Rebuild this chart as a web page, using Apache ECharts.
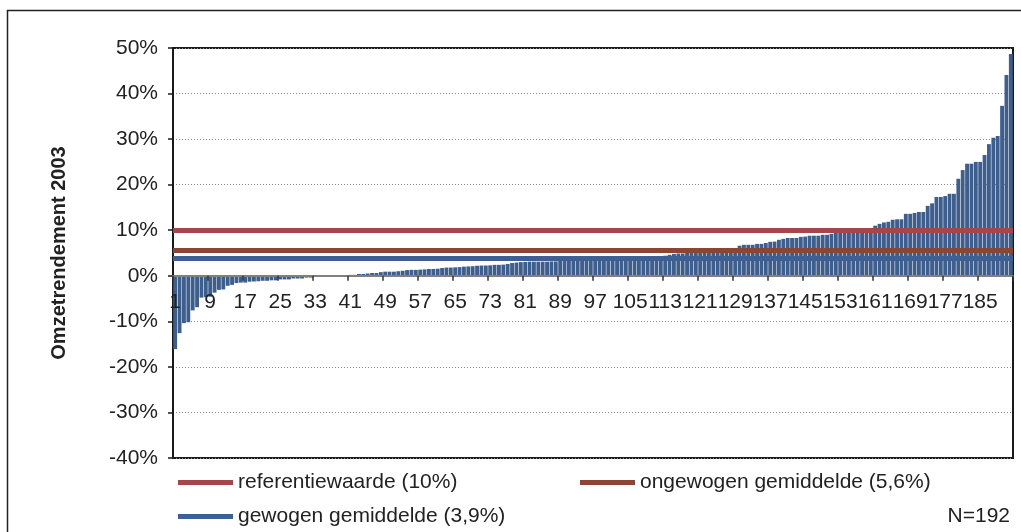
<!DOCTYPE html>
<html>
<head>
<meta charset="utf-8">
<script src="https://cdn.jsdelivr.net/npm/echarts@6/dist/echarts.min.js"></script>
<style>
html,body{margin:0;padding:0;background:#fff;}
#chart{width:1021px;height:532px;}
</style>
</head>
<body>
<div id="chart"></div>
<script>
// Companies 1..192, sorted by Omzetrendement 2003 (%)
const categories = [];
for (let i = 1; i <= 192; i++) categories.push(String(i));

const values = [
  -16.1,-12.6,-10.4,-10.2,-7.6,-6.9,-4.8,-4.7,-4.6,-3.7,
  -3.1,-3.0,-2.2,-2.0,-1.6,-1.5,-1.5,-1.3,-1.25,-1.2,
  -1.1,-1.1,-1.0,-1.0,-0.8,-0.8,-0.8,-0.6,-0.6,-0.6,
  -0.4,-0.4,-0.2,-0.2,-0.2,-0.1,-0.05,0.0,0.15,0.15,
  0.2,0.2,0.4,0.4,0.5,0.6,0.6,0.8,0.9,0.9,
  0.9,1.0,1.1,1.25,1.3,1.3,1.35,1.4,1.5,1.5,
  1.55,1.7,1.8,1.8,1.85,1.9,2.0,2.05,2.1,2.2,
  2.25,2.25,2.3,2.4,2.4,2.45,2.6,2.8,2.9,3.0,
  3.05,3.1,3.1,3.1,3.1,3.1,3.15,3.15,3.3,3.35,
  3.4,3.4,3.45,3.5,3.55,3.6,3.6,3.65,3.7,3.7,
  3.75,3.8,3.85,3.9,3.95,4.0,4.05,4.1,4.15,4.2,
  4.3,4.35,4.4,4.6,4.8,4.9,4.9,5.0,5.1,5.2,
  5.3,5.35,5.4,5.5,5.6,5.7,5.8,5.9,6.1,6.6,
  6.8,6.8,6.8,7.0,7.0,7.2,7.45,7.5,7.9,8.1,
  8.3,8.3,8.3,8.55,8.6,8.8,8.8,8.8,9.0,9.0,
  9.2,9.6,9.7,9.8,9.9,10.0,10.1,10.2,10.3,10.4,
  11.0,11.4,11.7,11.85,12.3,12.4,12.4,13.6,13.6,13.8,
  14.0,14.0,15.35,15.9,17.3,17.3,17.5,18.0,18.0,21.3,
  23.2,24.6,24.6,25.0,25.0,26.5,28.9,30.3,30.7,37.3,
  44.1,48.7
];

const lineNames = ['referentiewaarde (10%)', 'ongewogen gemiddelde (5,6%)', 'gewogen gemiddelde (3,9%)'];
const lineValues = [10, 5.6, 3.9];
const lineColors = ['#A6464A', '#8C4532', '#3E5F94'];

const yMin = -40, yMax = 50, yInterval = 10;
const yTitle = 'Omzetrendement 2003';
const countLabel = 'N=192';

const FONT = 'Liberation Sans, Arial, sans-serif';
const GRID_TOP = 48, GRID_BOTTOM = 74, CHART_H = 532;
const plotH = CHART_H - GRID_TOP - GRID_BOTTOM;
// move the category axis up so it sits on the 0% line
const zeroOffset = -plotH * (0 - yMin) / (yMax - yMin);

const chart = echarts.init(document.getElementById('chart'), null, {renderer: 'canvas'});

const lineSeries = lineNames.map((n, i) => ({
  name: n,
  type: 'line',
  data: [],
  color: lineColors[i],
  silent: true,
  z: 5,
  markLine: {
    silent: true,
    symbol: ['none', 'none'],
    label: {show: false},
    emphasis: {disabled: true},
    lineStyle: {color: lineColors[i], width: 5, type: 'solid'},
    data: [{yAxis: lineValues[i]}]
  }
}));

const legendBase = {
  icon: 'rect',
  itemWidth: 55,
  itemHeight: 5,
  selectedMode: false,
  textStyle: {fontFamily: FONT, fontSize: 21, color: '#222'}
};

chart.setOption({
  animation: false,
  graphic: [
    {type: 'rect', shape: {x: 7.5, y: 10.5, width: 1100, height: 600},
     style: {fill: null, stroke: '#222', lineWidth: 1.5}, silent: true},
    {type: 'text', right: 11, top: 506,
     style: {text: countLabel, font: '21px ' + FONT, fill: '#222'}}
  ],
  legend: [
    Object.assign({}, legendBase, {data: [lineNames[0]], left: 173, top: 467}),
    Object.assign({}, legendBase, {data: [lineNames[1]], left: 575, top: 467}),
    Object.assign({}, legendBase, {data: [lineNames[2]], left: 173, top: 501})
  ],
  grid: {
    left: 173, right: 8, top: GRID_TOP, bottom: GRID_BOTTOM,
    show: true, borderColor: '#1a1a1a', borderWidth: 2, backgroundColor: 'transparent'
  },
  xAxis: {
    type: 'category',
    data: categories,
    boundaryGap: true,
    position: 'bottom',
    offset: zeroOffset,
    z: 3,
    axisLine: {onZero: false, lineStyle: {color: '#808080', width: 2}},
    axisTick: {show: true, interval: 7, length: 5, lineStyle: {color: '#333', width: 1.5}},
    axisLabel: {interval: 7, margin: 16, fontFamily: FONT, fontSize: 21, color: '#222'},
    splitLine: {show: false}
  },
  yAxis: {
    type: 'value',
    min: yMin, max: yMax, interval: yInterval,
    name: yTitle,
    nameLocation: 'middle',
    nameGap: 104,
    nameTextStyle: {fontFamily: FONT, fontSize: 20, fontWeight: 'bold', color: '#222'},
    axisLine: {show: true, lineStyle: {color: '#1a1a1a', width: 2}},
    axisTick: {show: true, length: 5, lineStyle: {color: '#1a1a1a', width: 1.5}},
    axisLabel: {formatter: '{value}%', margin: 15, fontFamily: FONT, fontSize: 21, color: '#222'},
    splitLine: {show: true, lineStyle: {color: '#8c8c8c', type: [1, 2], width: 1}}
  },
  series: [
    {
      name: 'Omzetrendement',
      type: 'bar',
      data: values,
      barCategoryGap: '12%',
      itemStyle: {color: '#3E5E8E'},
      silent: true,
      z: 2
    }
  ].concat(lineSeries)
});
</script>
</body>
</html>
